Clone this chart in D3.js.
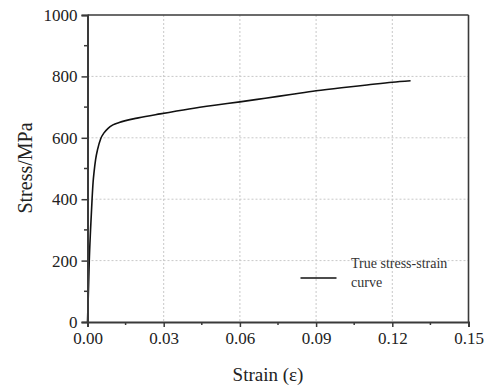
<!DOCTYPE html>
<html><head><meta charset="utf-8">
<script src="https://cdn.jsdelivr.net/npm/d3@7/dist/d3.min.js"></script>
<style>html,body{margin:0;padding:0;background:#fff;}svg{display:block;font-family:"Liberation Serif","DejaVu Serif",serif;}
svg text{font-family:"Liberation Serif","DejaVu Serif",serif !important;}</style>
</head><body>
<svg id="c" width="492" height="385"></svg>
<script>
const strain = [0, 0.0004, 0.0007, 0.0012, 0.0018, 0.0022, 0.0026, 0.0032, 0.0040, 0.0052, 0.0065, 0.0080, 0.0100, 0.0125, 0.0150, 0.0200, 0.0286, 0.0400, 0.0500, 0.0600, 0.0700, 0.0800, 0.0900, 0.1000, 0.1100, 0.1200, 0.1272];
const stress = [0, 110, 200, 300, 400, 455, 490, 530, 563, 597, 616, 630, 642, 650, 656, 665, 678, 694, 706, 717, 729, 741, 753, 763, 772, 781, 786];
const xTicks = [0, 0.03, 0.06, 0.09, 0.12, 0.15];
const yTicks = [0, 200, 400, 600, 800, 1000];
const xMinor = [0.015, 0.045, 0.075, 0.105, 0.135];
const yMinor = [100, 300, 500, 700, 900];
const legendLines = ["True stress-strain", "curve"];

const svg = d3.select("#c");
const L = 87.5, R = 468.5, T = 15, B = 322;
const x = d3.scaleLinear().domain([0, 0.15]).range([L, R]);
const y = d3.scaleLinear().domain([0, 1000]).range([B, T]);
const axisCol = "#3a3a3a";
const serif = '"Liberation Serif","DejaVu Serif",serif';

// grid
const g = svg.append("g");
g.selectAll("line.vx").data(xTicks.slice(1, -1)).join("line")
  .attr("x1", d => x(d)).attr("x2", d => x(d)).attr("y1", T).attr("y2", B)
  .attr("stroke", "#c8c8c8").attr("stroke-width", 1).attr("stroke-dasharray", "2,2");
g.selectAll("line.hy").data(yTicks.slice(1, -1)).join("line")
  .attr("y1", d => y(d)).attr("y2", d => y(d)).attr("x1", L).attr("x2", R)
  .attr("stroke", "#c8c8c8").attr("stroke-width", 1).attr("stroke-dasharray", "2,2");

// curve
const line = d3.line().x((d, i) => x(strain[i])).y(d => y(d)).curve(d3.curveMonotoneX);
svg.append("path").datum(stress).attr("d", line)
  .attr("fill", "none").attr("stroke", "#111").attr("stroke-width", 1.6);

// frame top/right
svg.append("line").attr("x1", L).attr("x2", R).attr("y1", T).attr("y2", T).attr("stroke", axisCol).attr("stroke-width", 1.6);
svg.append("line").attr("x1", R).attr("x2", R).attr("y1", T).attr("y2", B).attr("stroke", axisCol).attr("stroke-width", 1.6);

// axes
const xAxis = d3.axisBottom(x).tickValues(xTicks).tickFormat(d3.format(".2f")).tickSize(5).tickPadding(5);
const xa = svg.append("g").attr("transform", `translate(0,${B})`).call(xAxis)
  .attr("font-family", serif).attr("font-size", 17);
xa.select(".domain").attr("stroke", axisCol).attr("stroke-width", 2);
xa.selectAll(".tick line").attr("stroke", axisCol).attr("stroke-width", 1.5);
xa.selectAll("text").style("font-size", "17px").style("fill", "#222");
xa.selectAll("line.minor").data(xMinor).join("line").attr("class", "minor")
  .attr("x1", d => x(d)).attr("x2", d => x(d)).attr("y1", 0).attr("y2", 3)
  .attr("stroke", axisCol).attr("stroke-width", 1.5);

const yAxis = d3.axisLeft(y).tickValues(yTicks).tickFormat(d3.format("d")).tickSize(6).tickPadding(4);
const ya = svg.append("g").attr("transform", `translate(${L},0)`).call(yAxis)
  .attr("font-family", serif).attr("font-size", 17);
ya.select(".domain").attr("stroke", axisCol).attr("stroke-width", 2);
ya.selectAll(".tick line").attr("stroke", axisCol).attr("stroke-width", 1.5);
ya.selectAll("text").style("font-size", "17px").style("fill", "#222");
ya.selectAll("line.minor").data(yMinor).join("line").attr("class", "minor")
  .attr("y1", d => y(d)).attr("y2", d => y(d)).attr("x1", 0).attr("x2", -3.5)
  .attr("stroke", axisCol).attr("stroke-width", 1.5);

// axis titles
svg.append("text").attr("x", 268).attr("y", 381).attr("text-anchor", "middle")
  .style("font-size", "19px").attr("fill", "#222").text("Strain (ε)");
svg.append("text").attr("transform", "translate(32,168) rotate(-90)").attr("text-anchor", "middle")
  .style("font-size", "20px").attr("fill", "#222").text("Stress/MPa");

// legend
svg.append("line").attr("x1", 300.5).attr("x2", 336.5).attr("y1", 278).attr("y2", 278)
  .attr("stroke", "#111").attr("stroke-width", 1.6);
svg.append("g").selectAll("text").data(legendLines).join("text")
  .attr("x", 351).attr("y", (d, i) => 268 + i * 19)
  .style("font-size", "14px").attr("fill", "#333").text(d => d);
</script>
</body></html>
